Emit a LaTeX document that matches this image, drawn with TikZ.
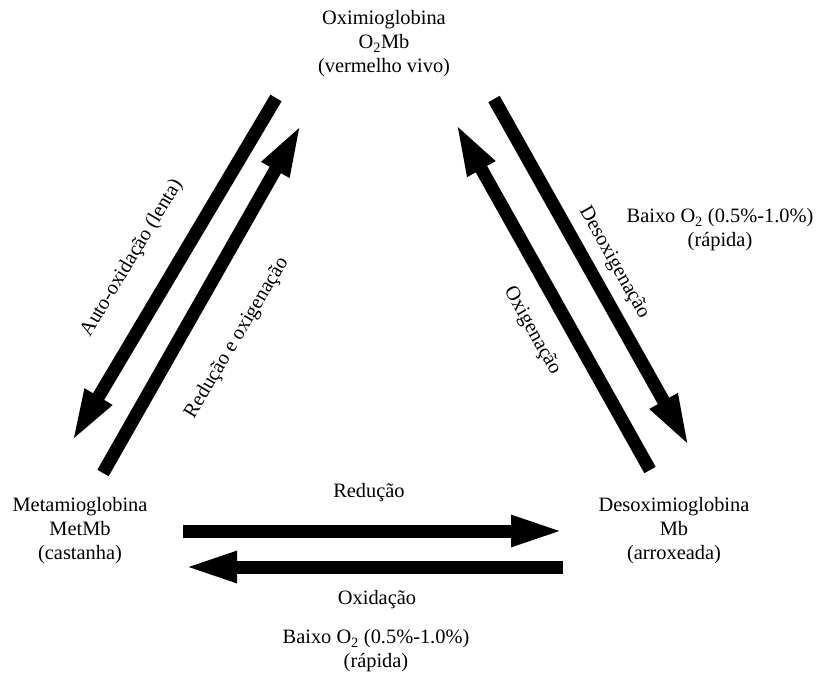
\documentclass[tikz,border=0pt]{standalone}
\usepackage{fontspec}
\setmainfont{Liberation Serif}
\usetikzlibrary{arrows.meta}
\begin{document}
\begin{tikzpicture}[x=1pt,y=-1pt,
  lbl/.style={inner sep=0pt, align=center, font=\fontsize{20.4}{24}\selectfont},
  fat/.style={line width=13pt, -{Triangle[length=54pt,width=28pt]}}]
\useasboundingbox (0,0) rectangle (817,673);
% species
\node[lbl] (oxy) at (384,44) {Oximioglobina\\O\textsubscript{2}Mb\\(vermelho vivo)};
\node[lbl] (met) at (80,531) {Metamioglobina\\MetMb\\(castanha)};
\node[lbl] (deo) at (674,531) {Desoximioglobina\\Mb\\(arroxeada)};
% arrow end points
\coordinate (a1s) at (276,98);  \coordinate (a1e) at (71,443);
\coordinate (a2s) at (103,473); \coordinate (a2e) at (302,123);
\coordinate (a3s) at (494,99);  \coordinate (a3e) at (690,448);
\coordinate (a4s) at (650,470); \coordinate (a4e) at (455,122);
\coordinate (a5s) at (183,531); \coordinate (a5e) at (565,531);
\coordinate (a6s) at (563,567); \coordinate (a6e) at (183,567);
\draw[fat] (a1s) -- (a1e);
\draw[fat] (a2s) -- (a2e);
\draw[fat] (a3s) -- (a3e);
\draw[fat] (a4s) -- (a4e);
\draw[fat] (a5s) -- (a5e);
\draw[fat] (a6s) -- (a6e);
% labels
\node[lbl, rotate=59] (l1) at (132,258) {Auto-oxidação (lenta)};
\node[lbl, rotate=59] (l2) at (237,338) {Redução e oxigenação};
\node[lbl, rotate=-60.7] (l3) at (614,263) {Desoxigenação};
\node[lbl, rotate=-60.7] (l4) at (532,331) {Oxigenação};
\node[lbl] (l5) at (369,493) {Redução};
\node[lbl] (l6) at (377,600) {Oxidação};
\node[lbl] (b1) at (720,230) {Baixo O\textsubscript{2} (0.5\%-1.0\%)\\(rápida)};
\node[lbl] (b2) at (376,651) {Baixo O\textsubscript{2} (0.5\%-1.0\%)\\(rápida)};
\end{tikzpicture}
\end{document}
